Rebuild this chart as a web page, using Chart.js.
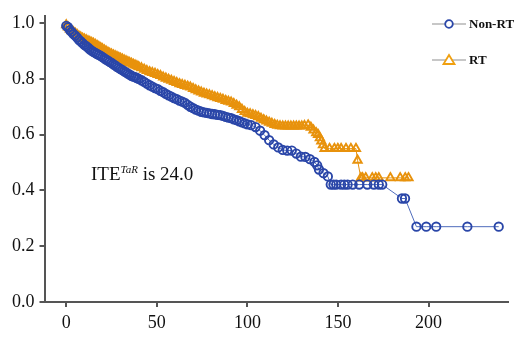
<!DOCTYPE html>
<html>
<head>
<meta charset="utf-8">
<script src="https://cdn.jsdelivr.net/npm/chart.js@4/dist/chart.umd.min.js"></script>
<style>
  body { margin: 0; background: #fff; }
  #wrap { position: relative; width: 515px; height: 338px; }
  #c { position: absolute; left: 0; top: 0; }
  .lg { position: absolute; font: bold 13px "Liberation Serif", serif; color: #111; }
  .lg svg { position: absolute; left: 0; top: 0; }
  .lg span { position: absolute; left: 37px; top: -8px; white-space: nowrap; }
  #note { position: absolute; left: 91px; top: 164px; font: 19px "Liberation Serif", serif; line-height: 1; color: #111; white-space: nowrap; }
  #note i { font-size: 11px; position: relative; top: -7px; }
</style>
</head>
<body>
<div id="wrap">
  <canvas id="c" width="515" height="338"></canvas>
  <div class="lg" style="left:432px;top:24px">
    <svg width="36" height="2" style="overflow:visible">
      <line x1="0" y1="0" x2="34" y2="0" stroke="#b4b4b4" stroke-width="1.5"/>
      <circle cx="17" cy="0" r="3.8" fill="#fff" stroke="#2a46a8" stroke-width="1.8"/>
    </svg>
    <span>Non-RT</span>
  </div>
  <div class="lg" style="left:432px;top:60px">
    <svg width="36" height="2" style="overflow:visible">
      <line x1="0" y1="0" x2="34" y2="0" stroke="#b4b4b4" stroke-width="1.5"/>
      <polygon points="17,-5 22.5,4 11.5,4" fill="#fff" stroke="#f0a010" stroke-width="1.8"/>
    </svg>
    <span>RT</span>
  </div>
  <div id="note">ITE<i>TaR</i> is 24.0</div>
</div>
<script>
// Non-RT survival (blue circles)
const nonRtX = [0,1,2,3,4,5,6,7,8,9,10,11,12,13,14,15,16,17,18,19,20,21,22,23,24,25,26,27,28,29,30,
  31,32,33,34,35,36,37,38,39,40,41.5,43,44.5,46,47.5,49,50.5,52,53.5,55,56.5,58,59.5,61,62.5,64,65.5,
  67,68.5,70,71.5,73,74.5,76,77.5,79,80.5,82,83.5,85,86.5,88,89.5,91,92.5,94,95.5,97,98.5,100,
  102,104.5,107,109.5,112,114.5,117,119.5,122,124.5,127,129.5,132,134.5,137,138.5,139.5,142,144.4,
  146,147.5,149,151.7,153.5,155.3,158.1,161.7,166.2,169.8,172.5,174.4,185.3,187,193.3,198.7,204.2,221.4,238.7];
const nonRtY = [0.99,0.985,0.975,0.968,0.96,0.955,0.948,0.94,0.934,0.928,0.922,0.917,0.912,0.906,0.901,0.897,
  0.893,0.889,0.886,0.882,0.878,0.873,0.869,0.865,0.861,0.857,0.852,0.848,0.843,0.839,0.835,
  0.831,0.827,0.823,0.819,0.815,0.811,0.808,0.806,0.803,0.8,0.795,0.789,0.783,0.777,0.772,0.767,0.763,0.757,0.752,0.746,0.741,0.736,0.731,0.727,0.722,0.718,0.714,
  0.707,0.7,0.695,0.69,0.686,0.682,0.68,0.678,0.676,0.674,0.673,0.671,0.67,0.667,0.664,0.661,0.659,0.655,0.652,0.648,0.644,0.64,0.637,
  0.634,0.627,0.614,0.598,0.58,0.565,0.554,0.545,0.543,0.543,0.532,0.521,0.52,0.512,0.502,0.49,0.475,0.462,0.45,
  0.421,0.421,0.421,0.421,0.421,0.421,0.421,0.421,0.421,0.421,0.421,0.421,0.371,0.371,0.27,0.27,0.27,0.27,0.27];

// RT survival (orange triangles)
const rtX = [0,1,2,3,4,5,6,7,8,9,10,11,12,13,14,15,16,17,18,19,20,21,22,23,24,25,26,27,28,29,30,
  31,32,33,34,35,36,37,38,39,40,41.5,43,44.5,46,47.5,49,50.5,52,53.5,55,56.5,58,59.5,61,62.5,64,65.5,
  67,68.5,70,71.5,73,74.5,76,77.5,79,80.5,82,83.5,85,86.5,88,89.5,91,92.5,94,95.5,97,98.5,100,
  101.5,103,104.5,106,107.5,109,110.5,112,113.5,115,116.5,118,119.5,121,122.5,124,125.5,127,128.5,130,131.5,133.5,
  135,136.5,138,139,140,140.8,141.7,142.6,145.3,148,149.9,151.7,154.4,157.1,159.9,160.8,162.6,
  163.5,165.3,168.9,170.8,172.5,178.9,184.3,187.1,188.9];
const rtY = [0.993,0.985,0.978,0.972,0.968,0.963,0.958,0.953,0.949,0.945,0.942,0.939,0.936,0.933,0.93,0.927,
  0.923,0.919,0.915,0.911,0.907,0.903,0.899,0.895,0.891,0.888,0.885,0.882,0.879,0.876,0.873,
  0.87,0.867,0.864,0.861,0.858,0.855,0.852,0.849,0.846,0.843,0.839,0.834,0.829,0.825,0.822,0.819,0.815,0.811,0.806,0.802,0.798,0.794,0.79,0.786,0.782,0.779,0.776,
  0.773,0.77,0.765,0.76,0.756,0.752,0.748,0.745,0.742,0.739,0.735,0.732,0.729,0.726,0.722,0.719,0.716,0.711,0.705,0.699,0.69,0.682,0.676,
  0.674,0.671,0.668,0.664,0.658,0.653,0.648,0.644,0.64,0.636,0.633,0.631,0.63,0.63,0.63,0.63,0.63,0.63,0.63,0.63,0.632,0.634,
  0.626,0.616,0.606,0.6,0.588,0.577,0.563,0.55,0.55,0.55,0.55,0.55,0.55,0.55,0.55,0.508,0.445,
  0.445,0.445,0.445,0.445,0.445,0.445,0.445,0.445,0.445];

const xTicks = [0, 50, 100, 150, 200];
const yTicks = [0, 0.2, 0.4, 0.6, 0.8, 1.0];

const pts = (xs, ys) => xs.map((x, i) => ({x: x, y: ys[i]}));
const tickFont = {family: '"Liberation Serif", serif', size: 18};

new Chart(document.getElementById("c"), {
  type: 'scatter',
  data: {
    datasets: [
      {
        label: "Non-RT",
        data: pts(nonRtX, nonRtY),
        showLine: true,
        borderColor: '#4f6cbc',
        borderWidth: 1,
        pointStyle: 'circle',
        pointRadius: 4.2,
        pointBorderWidth: 1.9,
        pointBorderColor: '#2a46a8',
        pointBackgroundColor: 'rgba(255,255,255,0)'
      },
      {
        label: "RT",
        data: pts(rtX, rtY),
        showLine: true,
        borderColor: '#e8920c',
        borderWidth: 1,
        pointStyle: 'triangle',
        pointRadius: 4.8,
        pointBorderWidth: 1.9,
        pointBorderColor: '#e8920c',
        pointBackgroundColor: 'rgba(255,255,255,0)'
      }
    ]
  },
  options: {
    responsive: false,
    animation: false,
    layout: {padding: {top: 7, right: 0, bottom: 0, left: 0}},
    plugins: {legend: {display: false}, tooltip: {enabled: false}},
    scales: {
      x: {
        type: 'linear',
        min: -12,
        max: 244,
        afterBuildTicks: s => { s.ticks = xTicks.map(v => ({value: v})); },
        afterFit: s => { s.height = 36; },
        border: {color: '#555', width: 2},
        grid: {drawOnChartArea: false, drawTicks: true, tickLength: 5, color: '#555', lineWidth: 2},
        ticks: {color: '#111', font: tickFont, padding: 5}
      },
      y: {
        min: 0,
        max: 1.026,
        afterBuildTicks: s => { s.ticks = yTicks.map(v => ({value: v})); },
        afterFit: s => { s.width = 44.5; },
        border: {color: '#555', width: 2},
        grid: {drawOnChartArea: false, drawTicks: true, tickLength: 5, color: '#555', lineWidth: 2},
        ticks: {color: '#111', font: tickFont, padding: 5, callback: v => v.toFixed(1)}
      }
    }
  }
});
</script>
</body>
</html>
